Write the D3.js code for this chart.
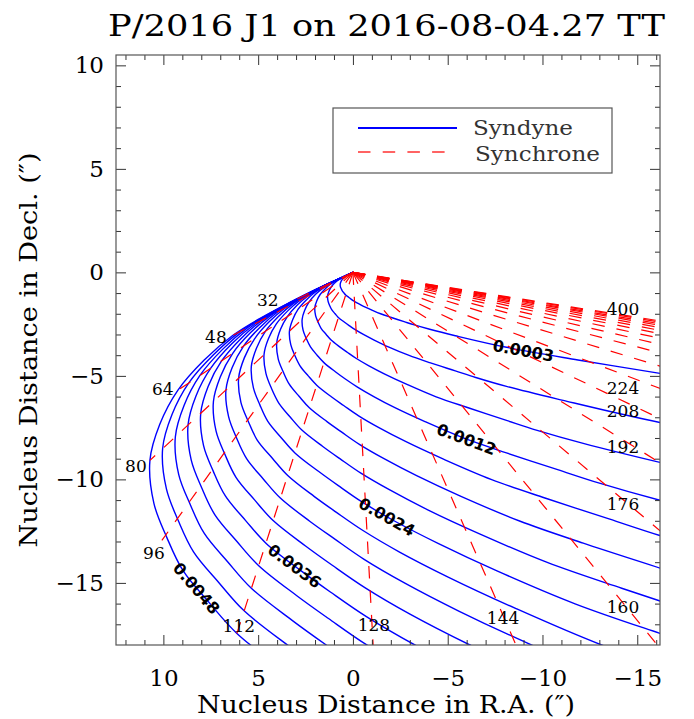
<!DOCTYPE html>
<html>
<head>
<meta charset="utf-8">
<script src="https://cdn.jsdelivr.net/npm/d3@7"></script>
<style>
body { margin: 0; background: #fff; }
</style>
</head>
<body>
<div id="chart"></div>
<script>
// syndynes, [R.A. offset, Decl. offset] in arcsec
const sd0003 = [[0,0],[0.06,-0.02],[0.12,-0.05],[0.21,-0.09],[0.30,-0.14],[0.40,-0.19],[0.49,-0.27],[0.58,-0.36],[0.64,-0.46],[0.67,-0.57],[0.66,-0.70],[0.61,-0.80],[0.56,-0.90],[0.47,-1.00],[0.38,-1.09],[0.23,-1.20],[0.10,-1.29],[-0.06,-1.39],[-0.27,-1.50],[-0.56,-1.64],[-0.95,-1.80],[-1.46,-2.00],[-2.03,-2.18],[-2.70,-2.38],[-3.24,-2.54],[-4.05,-2.75],[-5.40,-3.06],[-8.10,-3.62],[-11.87,-4.23],[-16.20,-4.88]];
const sd0006 = [[0,0],[0.11,-0.05],[0.24,-0.10],[0.42,-0.18],[0.60,-0.27],[0.79,-0.38],[0.98,-0.53],[1.15,-0.71],[1.27,-0.92],[1.34,-1.14],[1.31,-1.40],[1.23,-1.60],[1.12,-1.80],[0.94,-2.00],[0.77,-2.18],[0.46,-2.40],[0.20,-2.57],[-0.12,-2.77],[-0.55,-3.00],[-1.12,-3.27],[-1.90,-3.61],[-2.93,-4.00],[-4.05,-4.36],[-5.40,-4.76],[-6.48,-5.08],[-8.10,-5.51],[-10.80,-6.12],[-16.20,-7.25],[-23.75,-8.45]];
const sd0009 = [[0,0],[0.17,-0.07],[0.37,-0.15],[0.62,-0.27],[0.90,-0.41],[1.19,-0.57],[1.47,-0.80],[1.73,-1.07],[1.91,-1.38],[2.01,-1.70],[1.97,-2.09],[1.84,-2.40],[1.68,-2.70],[1.41,-3.00],[1.15,-3.27],[0.68,-3.61],[0.30,-3.86],[-0.18,-4.16],[-0.82,-4.50],[-1.68,-4.91],[-2.85,-5.41],[-4.39,-6.01],[-6.08,-6.54],[-8.10,-7.15],[-9.72,-7.63],[-12.15,-8.26],[-16.20,-9.18],[-24.30,-10.87]];
const sd0012 = [[0,0],[0.22,-0.10],[0.49,-0.21],[0.83,-0.36],[1.20,-0.54],[1.58,-0.76],[1.97,-1.06],[2.31,-1.43],[2.55,-1.84],[2.68,-2.27],[2.63,-2.79],[2.46,-3.20],[2.24,-3.60],[1.89,-4.00],[1.53,-4.36],[0.91,-4.81],[0.40,-5.15],[-0.24,-5.54],[-1.10,-6.00],[-2.24,-6.55],[-3.80,-7.21],[-5.86,-8.01],[-8.10,-8.72],[-10.80,-9.53],[-12.96,-10.17],[-16.20,-11.01],[-21.60,-12.23]];
const sd0015 = [[0,0],[0.28,-0.12],[0.61,-0.26],[1.04,-0.45],[1.50,-0.68],[1.98,-0.95],[2.46,-1.33],[2.89,-1.78],[3.18,-2.29],[3.35,-2.84],[3.28,-3.49],[3.07,-4.00],[2.80,-4.50],[2.36,-5.00],[1.91,-5.45],[1.14,-6.01],[0.49,-6.43],[-0.30,-6.93],[-1.37,-7.50],[-2.80,-8.18],[-4.75,-9.01],[-7.32,-10.01],[-10.13,-10.90],[-13.51,-11.91],[-16.19,-12.71],[-20.25,-13.77]];
const sd0018 = [[0,0],[0.34,-0.14],[0.73,-0.31],[1.25,-0.54],[1.80,-0.82],[2.37,-1.14],[2.95,-1.59],[3.46,-2.14],[3.82,-2.75],[4.02,-3.41],[3.94,-4.19],[3.68,-4.80],[3.36,-5.40],[2.83,-6.00],[2.30,-6.54],[1.37,-7.21],[0.59,-7.72],[-0.36,-8.32],[-1.64,-9.00],[-3.36,-9.82],[-5.70,-10.82],[-8.79,-12.01],[-12.15,-13.08],[-16.21,-14.29],[-19.43,-15.25]];
const sd0021 = [[0,0],[0.39,-0.17],[0.85,-0.36],[1.45,-0.63],[2.10,-0.95],[2.77,-1.33],[3.44,-1.86],[4.04,-2.49],[4.46,-3.21],[4.69,-3.97],[4.59,-4.88],[4.30,-5.60],[3.92,-6.30],[3.30,-7.00],[2.68,-7.63],[1.59,-8.41],[0.69,-9.00],[-0.42,-9.70],[-1.92,-10.50],[-3.92,-11.46],[-6.65,-12.62],[-10.25,-14.01],[-14.18,-15.26],[-18.91,-16.68]];
const sd0024 = [[0,0],[0.45,-0.19],[0.98,-0.41],[1.66,-0.72],[2.40,-1.09],[3.17,-1.52],[3.93,-2.13],[4.62,-2.85],[5.09,-3.67],[5.36,-4.54],[5.25,-5.58],[4.91,-6.40],[4.49,-7.20],[3.77,-8.00],[3.06,-8.72],[1.82,-9.61],[0.79,-10.29],[-0.48,-11.09],[-2.19,-12.01],[-4.49,-13.09],[-7.60,-14.42],[-11.72,-16.01],[-16.20,-17.44],[-21.61,-19.06]];
const sd0027 = [[0,0],[0.50,-0.22],[1.10,-0.46],[1.87,-0.82],[2.70,-1.22],[3.56,-1.71],[4.42,-2.39],[5.19,-3.21],[5.73,-4.13],[6.03,-5.11],[5.91,-6.28],[5.52,-7.20],[5.05,-8.10],[4.24,-8.99],[3.44,-9.81],[2.05,-10.82],[0.89,-11.58],[-0.53,-12.47],[-2.46,-13.51],[-5.05,-14.73],[-8.55,-16.22],[-13.18,-18.02],[-18.23,-19.62]];
const sd0030 = [[0,0],[0.56,-0.24],[1.22,-0.51],[2.08,-0.91],[3.00,-1.36],[3.96,-1.90],[4.91,-2.66],[5.77,-3.56],[6.37,-4.59],[6.70,-5.68],[6.56,-6.97],[6.14,-8.00],[5.61,-9.00],[4.72,-9.99],[3.83,-10.90],[2.28,-12.02],[0.99,-12.86],[-0.59,-13.86],[-2.74,-15.01],[-5.61,-16.37],[-9.50,-18.03],[-14.64,-20.02]];
const sd0033 = [[0,0],[0.62,-0.27],[1.34,-0.56],[2.29,-1.00],[3.30,-1.49],[4.35,-2.09],[5.41,-2.92],[6.35,-3.92],[7.00,-5.05],[7.36,-6.24],[7.22,-7.67],[6.75,-8.80],[6.17,-9.90],[5.19,-10.99],[4.21,-11.99],[2.50,-13.22],[1.09,-14.15],[-0.65,-15.24],[-3.01,-16.51],[-6.17,-18.00],[-10.45,-19.83]];
const sd0036 = [[0,0],[0.67,-0.29],[1.46,-0.62],[2.49,-1.09],[3.60,-1.63],[4.75,-2.28],[5.90,-3.19],[6.93,-4.28],[7.64,-5.51],[8.03,-6.81],[7.88,-8.37],[7.37,-9.60],[6.73,-10.80],[5.66,-11.99],[4.59,-13.08],[2.73,-14.42],[1.19,-15.44],[-0.71,-16.63],[-3.29,-18.01],[-6.73,-19.64]];
const sd0039 = [[0,0],[0.73,-0.31],[1.59,-0.67],[2.70,-1.18],[3.90,-1.77],[5.14,-2.47],[6.39,-3.45],[7.50,-4.63],[8.28,-5.97],[8.70,-7.38],[8.53,-9.07],[7.98,-10.40],[7.29,-11.70],[6.13,-12.99],[4.97,-14.17],[2.96,-15.62],[1.29,-16.72],[-0.77,-18.02],[-3.56,-19.51]];
const sd0042 = [[0,0],[0.78,-0.34],[1.71,-0.72],[2.91,-1.27],[4.20,-1.90],[5.54,-2.66],[6.88,-3.72],[8.08,-4.99],[8.91,-6.43],[9.37,-7.95],[9.19,-9.77],[8.59,-11.20],[7.85,-12.60],[6.60,-13.99],[5.36,-15.26],[3.19,-16.82],[1.39,-18.01],[-0.83,-19.40]];
const sd0045 = [[0,0],[0.84,-0.36],[1.83,-0.77],[3.12,-1.36],[4.50,-2.04],[5.94,-2.85],[7.37,-3.99],[8.66,-5.34],[9.55,-6.88],[10.04,-8.51],[9.84,-10.46],[9.21,-12.00],[8.41,-13.50],[7.07,-14.99],[5.74,-16.35],[3.41,-18.03],[1.48,-19.29]];
const sd0048 = [[0,0],[0.90,-0.39],[1.95,-0.82],[3.33,-1.45],[4.80,-2.17],[6.33,-3.04],[7.86,-4.25],[9.24,-5.70],[10.19,-7.34],[10.71,-9.08],[10.50,-11.16],[9.82,-12.80],[8.97,-14.40],[7.55,-15.99],[6.12,-17.44],[3.64,-19.23]];

const syndynes = [sd0003, sd0006, sd0009, sd0012, sd0015, sd0018, sd0021, sd0024,
                  sd0027, sd0030, sd0033, sd0036, sd0039, sd0042, sd0045, sd0048];

// labelled syndynes: which curve, and roughly where the label sits
const syndyneLabelText = ["0.0003", "0.0012", "0.0024", "0.0036", "0.0048"];
const syndyneLabelCurve = [0, 3, 7, 11, 15];
const syndyneLabelX = [-9.02, -6.02, -1.74, 3.06, 8.23];
const syndyneLabelY = [-3.72, -8.02, -11.93, -14.20, -15.27];

// synchrones: straight from the nucleus out to the beta = 0.0048 end (clipped by the frame)
const synchroneAge = [32, 48, 64, 80, 96, 112, 128, 144, 160, 176, 192, 208,
                      224, 240, 256, 272, 288, 304, 320, 336, 352, 368, 384, 400];
const synchroneEndX = [3.33, 6.33, 9.24, 10.71, 10.08, 6.12, -1.32, -13.46, -30.61, -53.30, -86.02, -132.98,
                       -32.40, -17.41, -17.41, -17.41, -17.41, -17.41, -17.41, -17.41, -17.41, -17.41, -17.41, -17.41];
const synchroneEndY = [-1.45, -3.04, -5.70, -9.08, -12.95, -17.44, -22.32, -28.16, -34.30, -41.06, -48.84, -57.97,
                       -11.21, -4.87, -4.18, -3.74, -3.42, -3.18, -3.01, -2.87, -2.75, -2.67, -2.58, -2.52];

const synchroneLabelAge = [32, 48, 64, 80, 96, 112, 128, 144, 160, 176, 192, 208, 224, 400];
const synchroneLabelX = [4.49, 7.23, 10.03, 11.45, 10.50, 6.02, -1.11, -7.92, -14.25, -14.25, -14.25, -14.25, -14.25, -14.25];
const synchroneLabelY = [-1.35, -3.14, -5.65, -9.37, -13.53, -17.10, -17.05, -16.71, -16.14, -11.16, -8.41, -6.71, -5.60, -1.74];

const majorTicks = [10, 5, 0, -5, -10, -15];
const xMinor = d3.range(-16, 13).filter(v => v % 5 !== 0);
const yMinor = d3.range(-17, 11).filter(v => v % 5 !== 0);

const serif = '"DejaVu Serif", serif';

var svg = d3.select("#chart")
    .append("svg")
    .attr("width", 694)
    .attr("height", 719)

var x = d3.scaleLinear().domain([12.5, -16.2]).range([116, 660]);
var y = d3.scaleLinear().domain([10.5, -18]).range([55, 645]);

svg.append("clipPath")
    .attr("id", "plot")
    .append("rect")
    .attr("x", 116)
    .attr("y", 55)
    .attr("width", 544)
    .attr("height", 590)

var line = d3.line()
    .x(d => x(d[0]))
    .y(d => y(d[1]))
    .curve(d3.curveCatmullRom.alpha(0.5))

var curves = svg.append("g").attr("clip-path", "url(#plot)")

var synPaths = curves.append("g")
    .selectAll("path")
    .data(syndynes)
    .enter()
    .append("path")
    .attr("d", line)
    .attr("fill", "none")
    .attr("stroke", "#0000ff")
    .attr("stroke-width", 1.4)

curves.append("g")
    .selectAll("line")
    .data(synchroneAge)
    .enter()
    .append("line")
    .attr("x1", x(0))
    .attr("y1", y(0))
    .attr("x2", (d, i) => x(synchroneEndX[i]))
    .attr("y2", (d, i) => y(synchroneEndY[i]))
    .attr("stroke", "#ff0000")
    .attr("stroke-width", 1.2)
    .attr("stroke-dasharray", "12.5,12")

// syndyne labels sit on their curve, turned along it
function onPath(node, px, py) {
    var len = node.getTotalLength(), best = 0, bestD = Infinity;
    for (var l = 0; l <= len; l += 1) {
        var p = node.getPointAtLength(l);
        var dd = (p.x - px) * (p.x - px) + (p.y - py) * (p.y - py);
        if (dd < bestD) { bestD = dd; best = l; }
    }
    var a = node.getPointAtLength(Math.max(0, best - 4)),
        b = node.getPointAtLength(Math.min(len, best + 4)),
        c = node.getPointAtLength(best);
    return { x: c.x, y: c.y, angle: Math.atan2(b.y - a.y, b.x - a.x) * 180 / Math.PI };
}

var nodes = synPaths.nodes();
syndyneLabelText.forEach((t, i) => {
    var p = onPath(nodes[syndyneLabelCurve[i]], x(syndyneLabelX[i]), y(syndyneLabelY[i]));
    svg.append("text")
        .attr("transform", `translate(${p.x},${p.y}) rotate(${p.angle})`)
        .attr("text-anchor", "middle")
        .attr("dy", "0.36em")
        .attr("font-family", '"DejaVu Sans", sans-serif')
        .attr("font-weight", "bold")
        .attr("font-size", 16)
        .attr("fill", "#000")
        .text(t)
});

svg.append("g")
    .selectAll("text")
    .data(synchroneLabelAge)
    .enter()
    .append("text")
    .attr("x", (d, i) => x(synchroneLabelX[i]))
    .attr("y", (d, i) => y(synchroneLabelY[i]))
    .attr("dy", "0.36em")
    .attr("text-anchor", "middle")
    .attr("font-family", serif)
    .attr("font-size", 17)
    .attr("fill", "#000")
    .text(d => d)

// frame and ticks on all four sides, pointing inwards
var fmt = d3.format("d");

function axis(gen, tx, ty, size, values, labels, pad) {
    var g = svg.append("g")
        .attr("transform", `translate(${tx},${ty})`)
        .call(gen.tickValues(values).tickSize(size).tickPadding(pad || 3)
            .tickFormat(labels ? fmt : () => ""))
    g.select(".domain").remove()
    g.selectAll("line").attr("stroke", "#333")
    g.attr("font-family", serif).attr("font-size", 23)
    g.selectAll("text").attr("fill", "#000")
}

axis(d3.axisBottom(x), 0, 645, -10, majorTicks, true, 25)
axis(d3.axisBottom(x), 0, 645, -5, xMinor, false)
axis(d3.axisTop(x), 0, 55, -10, majorTicks, false)
axis(d3.axisTop(x), 0, 55, -5, xMinor, false)
axis(d3.axisLeft(y), 116, 0, -10, majorTicks, true, 12)
axis(d3.axisLeft(y), 116, 0, -5, yMinor, false)
axis(d3.axisRight(y), 660, 0, -10, majorTicks, false)
axis(d3.axisRight(y), 660, 0, -5, yMinor, false)

svg.append("rect")
    .attr("x", 116)
    .attr("y", 55)
    .attr("width", 544)
    .attr("height", 590)
    .attr("fill", "none")
    .attr("stroke", "#555")
    .attr("stroke-width", 1.2)

// legend
var legend = svg.append("g")
legend.append("rect")
    .attr("x", 333).attr("y", 108)
    .attr("width", 279).attr("height", 65)
    .attr("fill", "#fff")
    .attr("stroke", "#555")
    .attr("stroke-width", 1.2)
legend.append("line")
    .attr("x1", 358).attr("x2", 457).attr("y1", 128).attr("y2", 128)
    .attr("stroke", "#0000ff").attr("stroke-width", 2)
legend.append("line")
    .attr("x1", 358).attr("x2", 446).attr("y1", 152).attr("y2", 152)
    .attr("stroke", "#ff3030").attr("stroke-width", 1.5)
    .attr("stroke-dasharray", "12.5,12.2")
legend.append("text")
    .attr("x", 473).attr("y", 135)
    .attr("font-family", serif).attr("font-size", 20)
    .attr("textLength", 100).attr("lengthAdjust", "spacingAndGlyphs")
    .attr("fill", "#333")
    .text("Syndyne")
legend.append("text")
    .attr("x", 475).attr("y", 161)
    .attr("font-family", serif).attr("font-size", 20)
    .attr("textLength", 125).attr("lengthAdjust", "spacingAndGlyphs")
    .attr("fill", "#333")
    .text("Synchrone")

// titles
svg.append("text")
    .attr("x", 386.5).attr("y", 36)
    .attr("text-anchor", "middle")
    .attr("font-family", serif).attr("font-size", 30)
    .attr("textLength", 557).attr("lengthAdjust", "spacingAndGlyphs")
    .text("P/2016 J1 on 2016-08-04.27 TT")

svg.append("text")
    .attr("x", 386).attr("y", 713)
    .attr("text-anchor", "middle")
    .attr("font-family", serif).attr("font-size", 24)
    .attr("textLength", 378).attr("lengthAdjust", "spacingAndGlyphs")
    .text("Nucleus Distance in R.A. (\u2033)")

svg.append("text")
    .attr("transform", "translate(37,350) rotate(-90)")
    .attr("text-anchor", "middle")
    .attr("font-family", serif).attr("font-size", 24)
    .attr("textLength", 395).attr("lengthAdjust", "spacingAndGlyphs")
    .text("Nucleus Distance in Decl. (\u2033)")
</script>
</body>
</html>
